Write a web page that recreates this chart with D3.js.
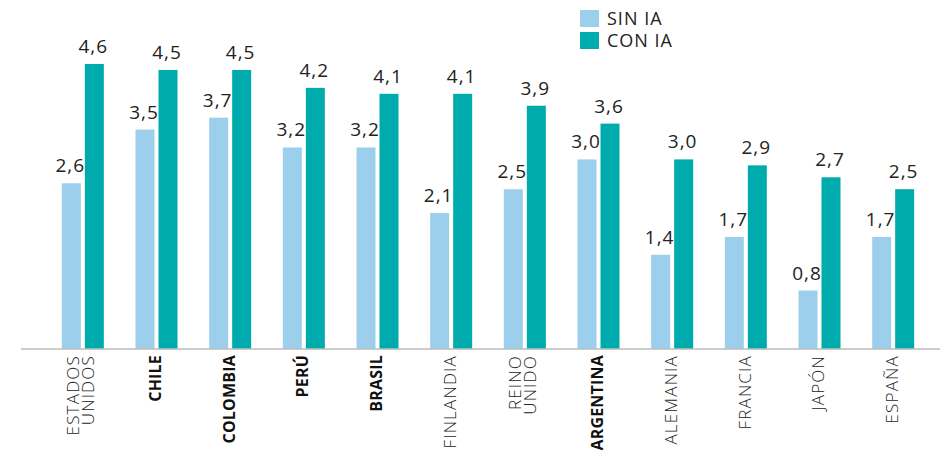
<!DOCTYPE html>
<html>
<head>
<meta charset="utf-8">
<script src="https://cdn.jsdelivr.net/npm/d3@7/dist/d3.min.js"></script>
<style>
  body { margin: 0; background: #fff; }
  svg { display: block; }
  text { font-family: "Open Sans", "Noto Sans", sans-serif; }
</style>
</head>
<body>
<svg id="chart" width="951" height="450"></svg>
<script>
// countries, left to right
var countries = ['ESTADOS UNIDOS', 'CHILE', 'COLOMBIA', 'PERÚ', 'BRASIL', 'FINLANDIA',
                 'REINO UNIDO', 'ARGENTINA', 'ALEMANIA', 'FRANCIA', 'JAPÓN', 'ESPAÑA'];
// latin american ones are set in bold
var boldCountries = ['CHILE', 'COLOMBIA', 'PERÚ', 'BRASIL', 'ARGENTINA'];

var series = ['SIN IA', 'CON IA'];
var sinIA = [2.6, 3.5, 3.7, 3.2, 3.2, 2.1, 2.5, 3.0, 1.4, 1.7, 0.8, 1.7];
var conIA = [4.6, 4.5, 4.5, 4.2, 4.1, 4.1, 3.9, 3.6, 3.0, 2.9, 2.7, 2.5];
var colors = ['#9ccfeb', '#00abad'];

var svg = d3.select('#chart');
var baseY = 349;

var x0 = d3.scaleBand().domain(countries).range([46, 930]).padding(0);
var x1 = d3.scaleBand().domain(series).range([0, 42]).paddingInner(0.174);
// bars in the original don't start exactly at zero, domain is fitted to it
var y = d3.scaleLinear().domain([-0.18, 4.6]).range([baseY, 64]);

var rows = countries.map(function(c, i) {
  return {country: c, values: [sinIA[i], conIA[i]]};
});

var fmt = function(v) { return d3.format('.1f')(v).replace('.', ','); };
var isBold = function(c) { return boldCountries.indexOf(c) >= 0; };

var groups = svg.selectAll('.group')
    .data(rows)
  .enter().append('g')
    .attr('class', 'group')
    .attr('transform', function(d) {
      return 'translate(' + (x0(d.country) + x0.bandwidth() / 2 - 21) + ',0)';
    });

var cells = groups.selectAll('.cell')
    .data(function(d) {
      return d.values.map(function(v, j) { return {s: series[j], v: v, j: j}; });
    })
  .enter();

cells.append('rect')
    .attr('x', function(d) { return x1(d.s); })
    .attr('y', function(d) { return y(d.v); })
    .attr('width', x1.bandwidth())
    .attr('height', function(d) { return baseY - y(d.v); })
    .style('fill', function(d) { return colors[d.j]; });

cells.append('text')
    .attr('x', function(d) { return x1(d.s) + x1.bandwidth() / 2 - 1; })
    .attr('y', function(d) { return y(d.v) - 11; })
    .attr('text-anchor', 'middle')
    .style('font-size', '19px')
    .style('letter-spacing', '1px')
    .style('fill', '#222')
    .text(function(d) { return fmt(d.v); });

// axis line
svg.append('line')
    .attr('x1', 21).attr('x2', 940)
    .attr('y1', baseY).attr('y2', baseY)
    .style('stroke', '#bdbdbd')
    .style('stroke-width', 1.5);

// rotated country labels
var labels = svg.selectAll('.clabel')
    .data(countries)
  .enter().append('text')
    .attr('class', 'clabel')
    .attr('transform', function(d) {
      return 'translate(' + (x0(d) + x0.bandwidth() / 2 - 1) + ',355) rotate(-90)';
    })
    .attr('text-anchor', 'end')
    .style('font-size', function(d) { return isBold(d) ? '16px' : '17px'; })
    .style('letter-spacing', function(d) { return isBold(d) ? '0.2px' : '1.2px'; })
    .style('font-weight', function(d) { return isBold(d) ? 700 : 300; })
    .style('fill', function(d) { return isBold(d) ? '#111' : '#222'; });

labels.each(function(d) {
  var parts = d.split(' ');
  var t = d3.select(this);
  if (parts.length == 1) {
    t.append('tspan').attr('x', 0).attr('dy', '0.35em').text(d);
  } else {
    t.append('tspan').attr('x', 0).attr('y', -3).text(parts[0]);
    t.append('tspan').attr('x', 0).attr('y', 12.5).text(parts[1]);
  }
});

// legend
var legend = svg.selectAll('.legend')
    .data(series)
  .enter().append('g')
    .attr('class', 'legend')
    .attr('transform', function(d, i) { return 'translate(580,' + (10 + i * 22) + ')'; });

legend.append('rect')
    .attr('width', 19).attr('height', 17)
    .style('fill', function(d, i) { return colors[i]; });

legend.append('text')
    .attr('x', 27).attr('y', 15)
    .style('font-size', '18px')
    .style('letter-spacing', '1px')
    .style('fill', '#222')
    .text(function(d) { return d; });
</script>
</body>
</html>
